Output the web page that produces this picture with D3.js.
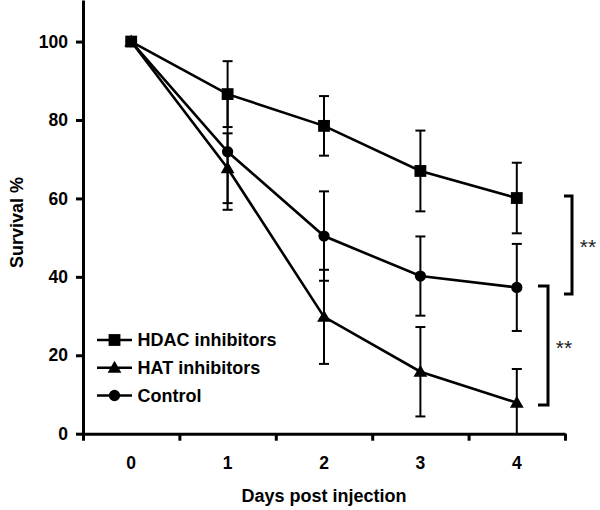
<!DOCTYPE html>
<html>
<head>
<meta charset="utf-8">
<script src="https://cdn.jsdelivr.net/npm/d3@7"></script>
<style>
  html, body { margin: 0; padding: 0; background: #fff; }
  svg { display: block; }
  text { font-family: "Liberation Sans", Arial, sans-serif; }
</style>
</head>
<body>
<svg id="chart" width="600" height="510"></svg>
<script>
// ---- data ----
const days = [0, 1, 2, 3, 4];
const dayLabels = ["0", "1", "2", "3", "4"];
const yTicks = [0, 20, 40, 60, 80, 100];

const hdacMean = [100, 86.6, 78.5, 67.0, 60.1];
const hdacErr  = [0, 8.4, 7.6, 10.3, 9.0];
const hatMean  = [100, 67.7, 29.8, 15.8, 7.9];
const hatErr   = [0, 8.9, 12.0, 11.4, 8.6];
const ctrlMean = [100, 71.9, 50.4, 40.2, 37.3];
const ctrlErr  = [0, 14.8, 11.4, 10.1, 11.1];

const seriesNames = ["HDAC inhibitors", "HAT inhibitors", "Control"];
const seriesSymbols = ["square", "triangle", "circle"];
const xTitle = "Days post injection";
const yTitle = "Survival %";
const sigLabel = "**";

// ---- layout ----
const svg = d3.select("#chart");
const x = d3.scaleLinear().domain([-0.5, 4.5]).range([83, 565]);
const y = d3.scaleLinear().domain([0, 110.6]).range([433.7, 0]);

const symMap = {
  square: d3.symbol().type(d3.symbolSquare).size(140),
  triangle: d3.symbol().type(d3.symbolTriangle).size(82),
  circle: d3.symbol().type(d3.symbolCircle).size(100)
};

// y axis
const yAxis = svg.append("g")
  .attr("transform", `translate(${x.range()[0]},0)`)
  .call(d3.axisLeft(y).tickValues(yTicks).tickSize(7).tickSizeOuter(0).tickPadding(8));
yAxis.select(".domain").attr("stroke", "#000").attr("stroke-width", 3);
yAxis.selectAll(".tick line").attr("stroke", "#000").attr("stroke-width", 3);
yAxis.selectAll(".tick text")
  .attr("font-size", 17.5).attr("font-weight", "bold").attr("fill", "#000")
  .attr("font-family", "'Liberation Sans', Arial, sans-serif");

// x axis (ticks at band boundaries)
const xAxis = svg.append("g")
  .attr("transform", `translate(0,${y(0)})`)
  .call(d3.axisBottom(x).tickValues([-0.5, 0.5, 1.5, 2.5, 3.5, 4.5]).tickFormat("").tickSize(7).tickSizeOuter(0));
xAxis.select(".domain").attr("stroke", "#000").attr("stroke-width", 3);
xAxis.selectAll(".tick line").attr("stroke", "#000").attr("stroke-width", 3);

// x labels
svg.append("g").selectAll("text").data(days).join("text")
  .attr("x", d => x(d)).attr("y", y(0) + 35)
  .attr("text-anchor", "middle")
  .attr("font-size", 17.5).attr("font-weight", "bold")
  .text((d, i) => dayLabels[i]);

// axis titles
svg.append("text")
  .attr("x", (x.range()[0] + x.range()[1]) / 2).attr("y", 502)
  .attr("text-anchor", "middle").attr("font-size", 18).attr("font-weight", "bold")
  .text(xTitle);
svg.append("text")
  .attr("transform", "translate(23,222.5) rotate(-90)")
  .attr("text-anchor", "middle").attr("font-size", 18).attr("font-weight", "bold")
  .text(yTitle);

// series
const series = [
  { mean: hdacMean, err: hdacErr, sym: seriesSymbols[0] },
  { mean: hatMean,  err: hatErr,  sym: seriesSymbols[1] },
  { mean: ctrlMean, err: ctrlErr, sym: seriesSymbols[2] }
];

const line = d3.line().x((d, i) => x(days[i])).y(d => y(d));
const capW = 5;

series.forEach(s => {
  const g = svg.append("g");
  days.forEach((d, i) => {
    if (!s.err[i]) return;
    const hi = y(s.mean[i] + s.err[i]);
    const lo = y(Math.max(0, s.mean[i] - s.err[i]));
    const cx = x(d);
    g.append("line").attr("x1", cx).attr("x2", cx).attr("y1", hi).attr("y2", lo)
      .attr("stroke", "#000").attr("stroke-width", 2);
    g.append("line").attr("x1", cx - capW).attr("x2", cx + capW).attr("y1", hi).attr("y2", hi)
      .attr("stroke", "#000").attr("stroke-width", 2);
    if (s.mean[i] - s.err[i] > 0) {
      g.append("line").attr("x1", cx - capW).attr("x2", cx + capW).attr("y1", lo).attr("y2", lo)
        .attr("stroke", "#000").attr("stroke-width", 2);
    }
  });
  g.append("path").attr("d", line(s.mean)).attr("fill", "none")
    .attr("stroke", "#000").attr("stroke-width", 2.6);
  g.selectAll("path.pt").data(s.mean).join("path").attr("class", "pt")
    .attr("transform", (v, i) => `translate(${x(days[i])},${y(v) + (s.sym === "triangle" ? 1 : 0)})`)
    .attr("d", symMap[s.sym]).attr("fill", "#000");
});

// legend
const legendY = [340, 367.8, 395.5];
const lg = svg.append("g");
seriesNames.forEach((name, i) => {
  const ly = legendY[i];
  lg.append("line").attr("x1", 97).attr("x2", 132).attr("y1", ly).attr("y2", ly)
    .attr("stroke", "#000").attr("stroke-width", 2.6);
  lg.append("path").attr("transform", `translate(114.5,${ly + (seriesSymbols[i] === "triangle" ? 1 : 0)})`)
    .attr("d", symMap[seriesSymbols[i]]).attr("fill", "#000");
  lg.append("text").attr("x", 137.5).attr("y", ly).attr("dy", "0.36em")
    .attr("font-size", 18).attr("font-weight", "bold").text(name);
});

// significance brackets
function bracket(xLeft, xRight, yTop, yBot, tx, ty) {
  const p = d3.path();
  p.moveTo(xLeft, yTop); p.lineTo(xRight, yTop); p.lineTo(xRight, yBot); p.lineTo(xLeft, yBot);
  svg.append("path").attr("d", p.toString()).attr("fill", "none")
    .attr("stroke", "#000").attr("stroke-width", 3);
  svg.append("text").attr("x", tx).attr("y", ty).attr("dy", "0.7em")
    .attr("text-anchor", "middle").attr("font-size", 21).attr("fill", "#222").text(sigLabel);
}
bracket(564, 572, 196, 294, 588, 239);
bracket(538, 548, 286, 405, 564, 340);
</script>
</body>
</html>
